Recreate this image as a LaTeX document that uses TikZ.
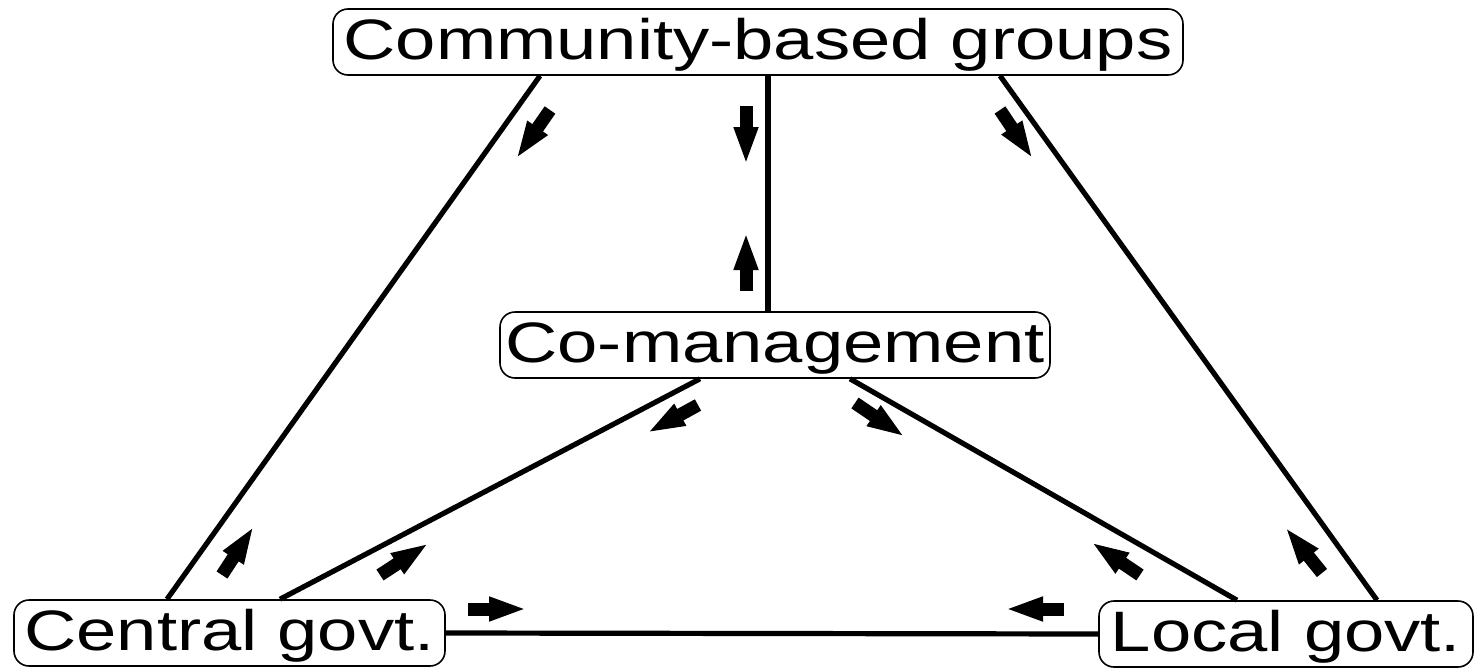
\documentclass[tikz,border=0pt]{standalone}
\usepackage{fontspec}
\setmainfont{Liberation Sans}[FakeStretch=1.27]
\usetikzlibrary{arrows.meta,calc}
\begin{document}
\begin{tikzpicture}[x=0.5pt,y=-0.5pt]
	% Styles
	\tikzstyle{boite}=[draw,line width=0.8pt,rounded corners=7.5pt,inner xsep=2pt,inner ysep=0pt,minimum height=33pt,text height=22pt,text depth=5pt,font=\fontsize{28.5}{34}\selectfont]
	\tikzstyle{lien}=[-,line width=2.6pt]
	\tikzstyle{fleche}=[-{Triangle[length=19pt,width=11pt]},line width=6.5pt]
	% Cadre
	\useasboundingbox (0,0) rectangle (1484,669);
	% Noeuds
	\node[boite,minimum width=425pt] (Cbg) at (758,42) {Community-based groups};
	\node[boite,minimum width=275pt] (Cog) at (775,345) {Co-management};
	\node[boite,minimum width=215.5pt] (Cen) at (229.5,633) {Central govt.};
	\node[boite,minimum width=187pt] (Loc) at (1286,634) {Local govt.};
	% Arcs
	\draw[lien] ($(Cbg.south)+(-218,0)$) -- ($(Cen.north)+(-62.5,0)$);
	\draw[lien] ($(Cbg.south)+(10,0)$) -- ($(Cog.north)+(-7,0)$);
	\draw[lien] ($(Cbg.south)+(242,0)$) -- ($(Loc.north)+(91,0)$);
	\draw[lien] ($(Cog.south)+(-75,0)$) -- ($(Cen.north)+(50.5,0)$);
	\draw[lien] ($(Cog.south)+(75,0)$) -- ($(Loc.north)+(-49,0)$);
	\draw[lien] (Cen.east) -- (Loc.west);
	% Fleches
	\draw[fleche] (550,110) -- (516,159);
	\draw[fleche] (746,106) -- (746,165);
	\draw[fleche] (746,291) -- (746,232);
	\draw[fleche] (1000,110) -- (1033,159);
	\draw[fleche] (698,405) -- (647,433);
	\draw[fleche] (855,403) -- (905,437);
	\draw[fleche] (222,575) -- (254,526);
	\draw[fleche] (380,575) -- (429,543);
	\draw[fleche] (468,609) -- (527,609);
	\draw[fleche] (1064,609) -- (1005,609);
	\draw[fleche] (1140,575) -- (1091,542);
	\draw[fleche] (1322,573) -- (1285,527);
\end{tikzpicture}
\end{document}
